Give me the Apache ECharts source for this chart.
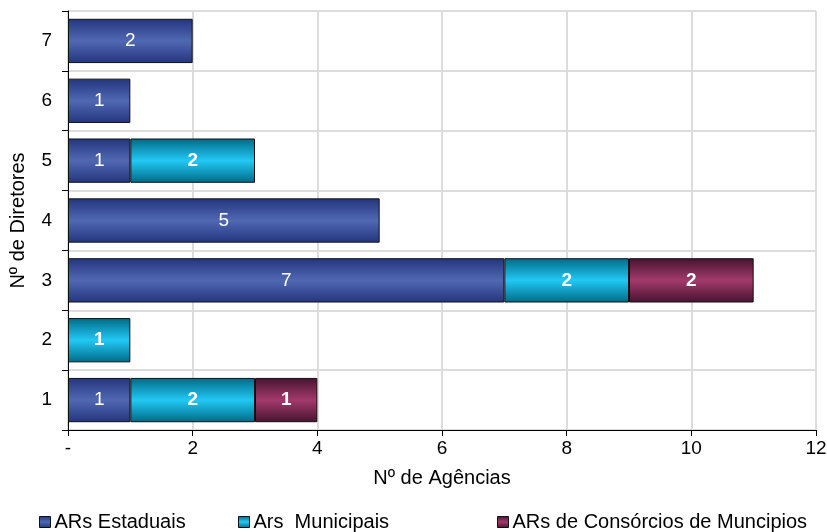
<!DOCTYPE html>
<html>
<head>
<meta charset="utf-8">
<script src="https://cdn.jsdelivr.net/npm/echarts@6/dist/echarts.min.js"></script>
<style>
  html,body{margin:0;padding:0;background:#fff;}
  #main{width:827px;height:532px;}
</style>
</head>
<body>
<div id="main"></div>
<script>
var diretores=['1','2','3','4','5','6','7'];
var estaduais=[1,null,7,5,1,1,2];
var municipais=[2,1,2,null,2,null,null];
var consorcios=[1,null,2,null,null,null,null];
var xTicks=['-','2','4','6','8','10','12'];

var myChart=echarts.init(document.getElementById('main'));
var fnt='Liberation Sans, Arial, sans-serif';

//渐变色
function grad(edge,mid){
  return new echarts.graphic.LinearGradient(0,0,0,1,[
    {offset:0,color:edge},{offset:0.5,color:mid},{offset:1,color:edge}
  ]);
}

function serie(name,data,c,bold){
  return {
    name:name,type:'bar',stack:'total',barCategoryGap:'26%',data:data,
    itemStyle:{color:c,borderColor:'#111',borderWidth:1},
    label:{show:true,position:'inside',color:'#fff',fontSize:19,fontFamily:fnt,
      fontWeight:bold?'bold':'normal'}
  };
}

function leg(name,left,c){
  return {data:[{name:name,icon:'rect',itemStyle:{color:c,borderColor:'#111',borderWidth:1}}],
    left:left,top:507,itemWidth:11,itemHeight:11,itemGap:0,
    textStyle:{fontSize:20,fontFamily:fnt,color:'#000',padding:[0,0,0,-1]}};
}

var cEst=grad('#24357f','#5068b2');
var cMun=grad('#006a86','#22c8f5');
var cCon=grad('#461330','#a23a6b');

var option={
  animation:false,
  grid:{left:68,right:11,top:11,bottom:102,outerBoundsMode:'none',containLabel:false},
  legend:[
    leg('ARs Estaduais',34,cEst),
    leg('Ars  Municipais',233,cMun),
    leg('ARs de Consórcios de Muncipios',492,cCon)
  ],
  xAxis:{
    type:'value',min:0,max:12,interval:2,
    name:'Nº de Agências',nameLocation:'middle',nameGap:38,
    nameTextStyle:{fontSize:20,fontFamily:fnt,color:'#000'},
    axisLine:{show:true,lineStyle:{color:'#000'}},
    axisTick:{show:true,length:6,lineStyle:{color:'#000'}},
    axisLabel:{fontSize:19,fontFamily:fnt,color:'#000',margin:9,
      formatter:function(v){return xTicks[v/2];}},
    splitLine:{show:true,lineStyle:{color:'#dcdcdc',width:2}}
  },
  yAxis:{
    type:'category',data:diretores,
    name:'Nº de Diretores',nameLocation:'middle',nameGap:40,
    nameTextStyle:{fontSize:20,fontFamily:fnt,color:'#000'},
    axisLine:{show:true,lineStyle:{color:'#000'}},
    axisTick:{show:true,length:6,lineStyle:{color:'#000'}},
    axisLabel:{fontSize:19,fontFamily:fnt,color:'#000',margin:16},
    splitLine:{show:true,lineStyle:{color:'#dcdcdc',width:2}}
  },
  series:[
    serie('ARs Estaduais',estaduais,cEst,false),
    serie('Ars  Municipais',municipais,cMun,true),
    serie('ARs de Consórcios de Muncipios',consorcios,cCon,true)
  ]
};
myChart.setOption(option);
</script>
</body>
</html>
